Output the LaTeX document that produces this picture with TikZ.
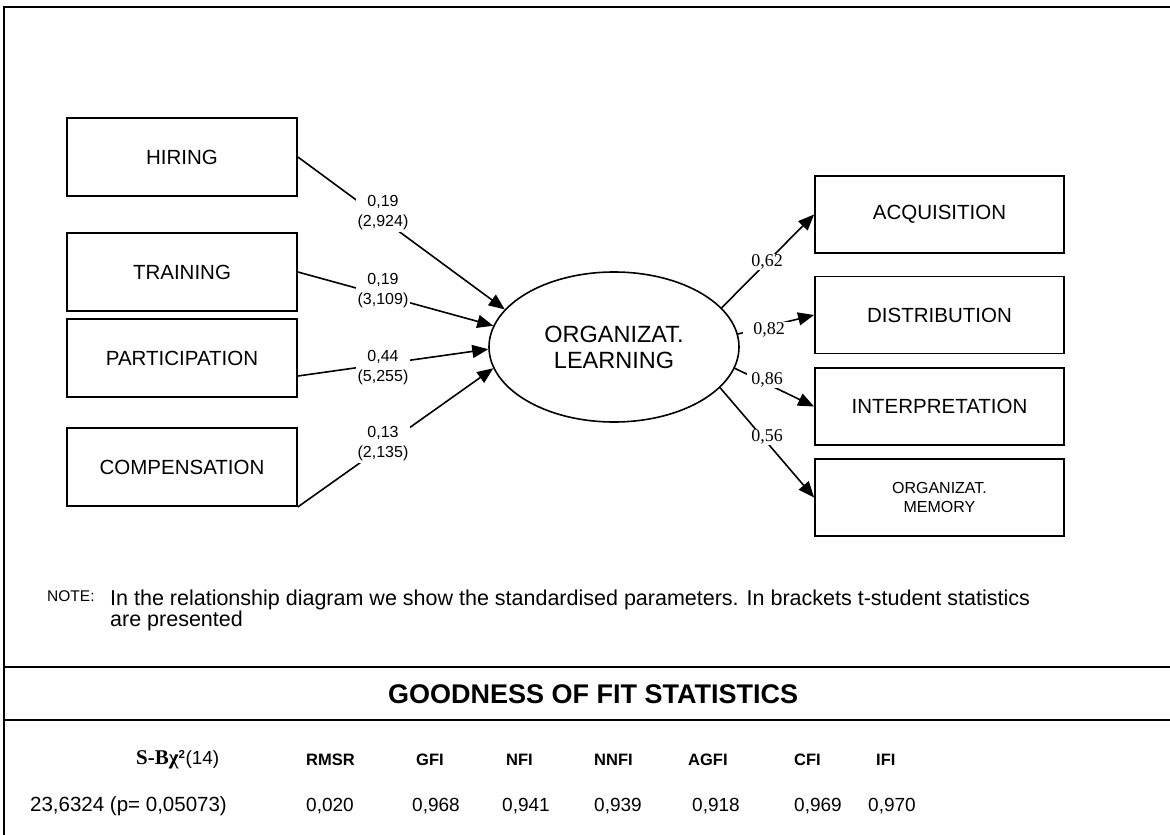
\documentclass[tikz,border=0pt]{standalone}
\usepackage{fontspec}
\setmainfont{Liberation Sans}
\newfontfamily\tnr{Liberation Serif}
\usetikzlibrary{shapes.geometric,arrows.meta}
\begin{document}
\begin{tikzpicture}[x=1pt,y=-1pt,
  box/.style={draw,line width=1.8pt,minimum width=230pt,minimum height=78pt,inner sep=0pt,align=center,font=\fontsize{20.5}{24}\selectfont},
  rbox/.style={box,minimum width=249pt,minimum height=77pt},
  lat/.style={ellipse,draw,line width=1.6pt,minimum width=250pt,minimum height=150pt,inner sep=0pt,align=center,font=\fontsize{23.5}{26}\selectfont},
  conn/.style={line width=1.6pt,-{Triangle[length=16pt,width=13pt]}},
  llab/.style={fill=white,inner sep=2pt,align=center,font=\fontsize{16}{20}\selectfont},
  rlab/.style={fill=white,inner xsep=4pt,inner ysep=1pt,font=\tnr\fontsize{18}{20}\selectfont},
  frame/.style={line width=2.2pt},
  th/.style={anchor=west,inner sep=0pt,font=\bfseries\fontsize{16.5}{20}\selectfont},
  tv/.style={anchor=west,inner sep=0pt,font=\fontsize{19}{22}\selectfont},
]
\useasboundingbox (0,0) rectangle (1170,835);
% frame
\coordinate (ftl) at (4,7);
\coordinate (ftr) at (1170,7);
\coordinate (fbl) at (4,835);
\coordinate (m1l) at (4,667);
\coordinate (m1r) at (1170,667);
\coordinate (m2l) at (4,720);
\coordinate (m2r) at (1170,720);
\draw[frame] (ftr) -- (ftl) -- (fbl);
\draw[frame] (m1l) -- (m1r);
\draw[frame] (m2l) -- (m2r);
% left boxes
\node[box] (hiring) at (182,157) {HIRING};
\node[box] (training) at (182,272) {TRAINING};
\node[box] (part) at (182,358) {PARTICIPATION};
\node[box] (comp) at (182,467) {COMPENSATION};
% latent
\node[lat] (ol) at (614,347) {ORGANIZAT.\\LEARNING};
% right boxes
\node[rbox] (acq) at (939.5,214.5) {ACQUISITION};
\node[rbox] (dist) at (939.5,315) {DISTRIBUTION};
\node[rbox] (interp) at (939.5,406.5) {INTERPRETATION};
\node[rbox,font=\fontsize{16}{19}\selectfont] (mem) at (939.5,497.5) {ORGANIZAT.\\MEMORY};
% connectors
\draw[conn] (hiring.east) -- (ol.161);
\draw[conn] (training.east) -- (ol.170);
\draw[conn] ([yshift=-18pt]part.east) -- (ol.181);
\draw[conn] (comp.south east) -- (ol.190);
\draw[conn] (ol.20) -- (acq.west);
\draw[conn] (ol.6) -- (dist.west);
\draw[conn] (ol.-10) -- (interp.west);
\draw[conn] (ol.-21) -- (mem.west);
% labels
\node[llab] (l1) at (383,213) {0,19\\(2,924)};
\node[llab] (l2) at (383,291) {0,19\\(3,109)};
\node[llab] (l3) at (383,368) {0,44\\(5,255)};
\node[llab] (l4) at (383,444) {0,13\\(2,135)};
\node[rlab] (r1) at (767,262) {0,62};
\node[rlab,minimum width=52pt] (r2) at (769,330) {0,82};
\node[rlab] (r3) at (767,380) {0,86};
\node[rlab] (r4) at (767,437) {0,56};
% note
\node[anchor=west,inner sep=0pt,font=\fontsize{15.5}{20}\selectfont] (note) at (47,596) {NOTE:};
\node[anchor=north west,inner sep=0pt,align=left,font=\fontsize{21.5}{20.5}\selectfont] (notetext) at (110,590) {In the relationship diagram we show the standardised parameters. In brackets t-student statistics\\are presented};
% table
\node[font=\bfseries\fontsize{27}{30}\selectfont] (gof) at (593,694) {GOODNESS OF FIT STATISTICS};
\node[th] (h0) at (136,760) {{\tnr\bfseries\fontsize{21}{22}\selectfont S-Bχ}\textsuperscript{\bfseries 2}{\mdseries\fontsize{19}{22}\selectfont(14)}};
\node[th] (h1) at (306,760) {RMSR};
\node[th] (h2) at (416,760) {GFI};
\node[th] (h3) at (506,760) {NFI};
\node[th] (h4) at (594,760) {NNFI};
\node[th] (h5) at (688,760) {AGFI};
\node[th] (h6) at (794,760) {CFI};
\node[th] (h7) at (876,760) {IFI};
\node[tv,font=\fontsize{20.5}{22}\selectfont] (v0) at (30,806) {23,6324 (p= 0,05073)};
\node[tv] (v1) at (306,806) {0,020};
\node[tv] (v2) at (412,806) {0,968};
\node[tv] (v3) at (502,806) {0,941};
\node[tv] (v4) at (594,806) {0,939};
\node[tv] (v5) at (692,806) {0,918};
\node[tv] (v6) at (794,806) {0,969};
\node[tv] (v7) at (868,806) {0,970};
\end{tikzpicture}
\end{document}
